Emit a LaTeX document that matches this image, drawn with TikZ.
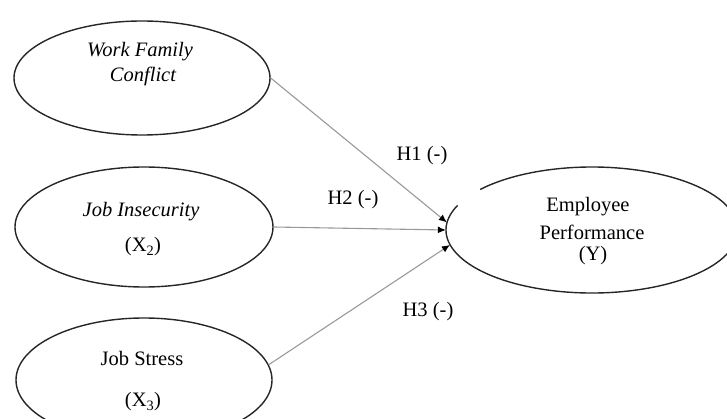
\documentclass[tikz,border=0pt]{standalone}
\usepackage{fontspec}
\setmainfont{Liberation Serif}
\usetikzlibrary{shapes.geometric,arrows.meta}
\begin{document}
\begin{tikzpicture}[x=1pt,y=-1pt,
  every node/.style={font=\fontsize{20.5}{24}\selectfont},
  oval/.style={ellipse,draw=black!85,line width=1.4pt,inner sep=0pt},
  hidoval/.style={ellipse,inner sep=0pt},
  lbl/.style={inner sep=0pt,anchor=center},
  conn/.style={draw=black!40,line width=1.1pt,-{Latex[black,length=8pt,width=7pt]}}]
\useasboundingbox (0,0) rectangle (727,419);
% source ellipses
\node[oval,minimum width=256pt,minimum height=114pt] (wfc) at (142,78) {};
\node[oval,minimum width=258pt,minimum height=120pt] (ji) at (144,227) {};
\node[oval,minimum width=256pt,minimum height=124pt] (js) at (144,380) {};
% target ellipse (with small gap at upper left)
\node[hidoval,minimum width=292pt,minimum height=126pt] (ep) at (592,230) {};
\draw[black!85,line width=1.4pt] ([shift={(157:146pt and 63pt)}]ep.center)
  arc[start angle=157,end angle=500,x radius=146pt,y radius=63pt];
% texts
\node[lbl] (t1) at (140,52) {\itshape Work Family};
\node[lbl] (t2) at (143,76) {\itshape Conflict};
\node[lbl] (t3) at (141,212) {\itshape Job Insecurity};
\node[lbl] (t4) at (143,247) {(X\textsubscript{2})};
\node[lbl] (t5) at (142,358) {Job Stress};
\node[lbl] (t6) at (143,402) {(X\textsubscript{3})};
\node[lbl] (t7) at (588,207) {Employee};
\node[lbl] (t8) at (592,232) {Performance};
\node[lbl] (t9) at (593,256) {(Y)};
\node[lbl] (h1) at (422,156) {H1 (-)};
\node[lbl] (h2) at (353,200) {H2 (-)};
\node[lbl] (h3) at (428,312) {H3 (-)};
% connectors
\draw[conn] (wfc.east) -- (ep.177);
\draw[conn] (ji.east) -- (ep.180);
\draw[conn] (js.7) -- (ep.186);
\end{tikzpicture}
\end{document}
